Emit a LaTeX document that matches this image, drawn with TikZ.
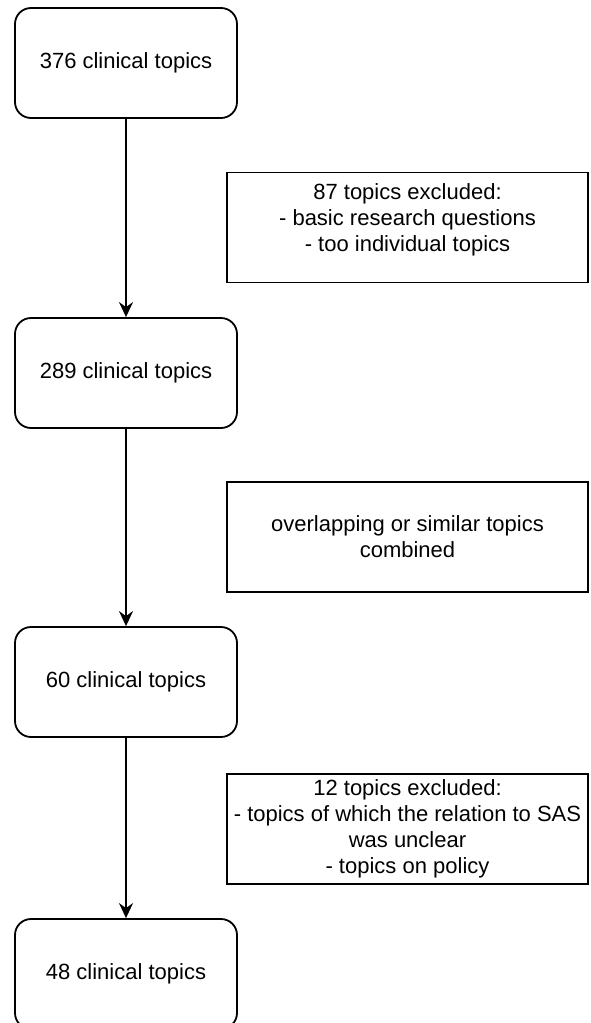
\documentclass[tikz,border=0pt]{standalone}
\usepackage{fontspec}
\setmainfont{Liberation Sans}
\usetikzlibrary{arrows.meta, positioning}
\tikzset{
  % riquadro arrotondato di una fase
  topicbox/.style={draw=black, line width=1.8pt, rounded corners=16pt, minimum width=222pt,
    minimum height=110pt, align=center, fill=white, font=\fontsize{22}{26}\selectfont},
  % nota laterale (argomenti esclusi)
  notebox/.style={draw=black, line width=1.8pt, minimum width=361pt, minimum height=110pt,
    align=center, fill=white, font=\fontsize{22}{26}\selectfont},
  % freccia tra le fasi
  flow/.style={-{Stealth[length=15pt, width=14pt, inset=5pt]}, line width=2pt},
}

\begin{document}
\begin{tikzpicture}[x=1pt, y=-1pt]
  \useasboundingbox (0,0) rectangle (590,1023);
  \node[topicbox] (t376) at (126,63) {376 clinical topics};
  \node[topicbox] (t289) at (126,373) {289 clinical topics};
  \node[topicbox] (t60) at (126,682) {60 clinical topics};
  \node[topicbox] (t48) at (126,974) {48 clinical topics};
  \node[notebox, text depth=20pt] (excl87) at (407.5,227.5) {87 topics excluded:\\- basic research questions\\- too individual topics};
  \node[notebox] (merge) at (407.5,537) {overlapping or similar topics\\combined};
  \node[notebox] (excl12) at (407.5,829) {12 topics excluded:\\- topics of which the relation to SAS\\was unclear\\- topics on policy};
  \draw[flow] (t376) -- (t289);
  \draw[flow] (t289) -- (t60);
  \draw[flow] (t60) -- (t48);
\end{tikzpicture}
\end{document}
